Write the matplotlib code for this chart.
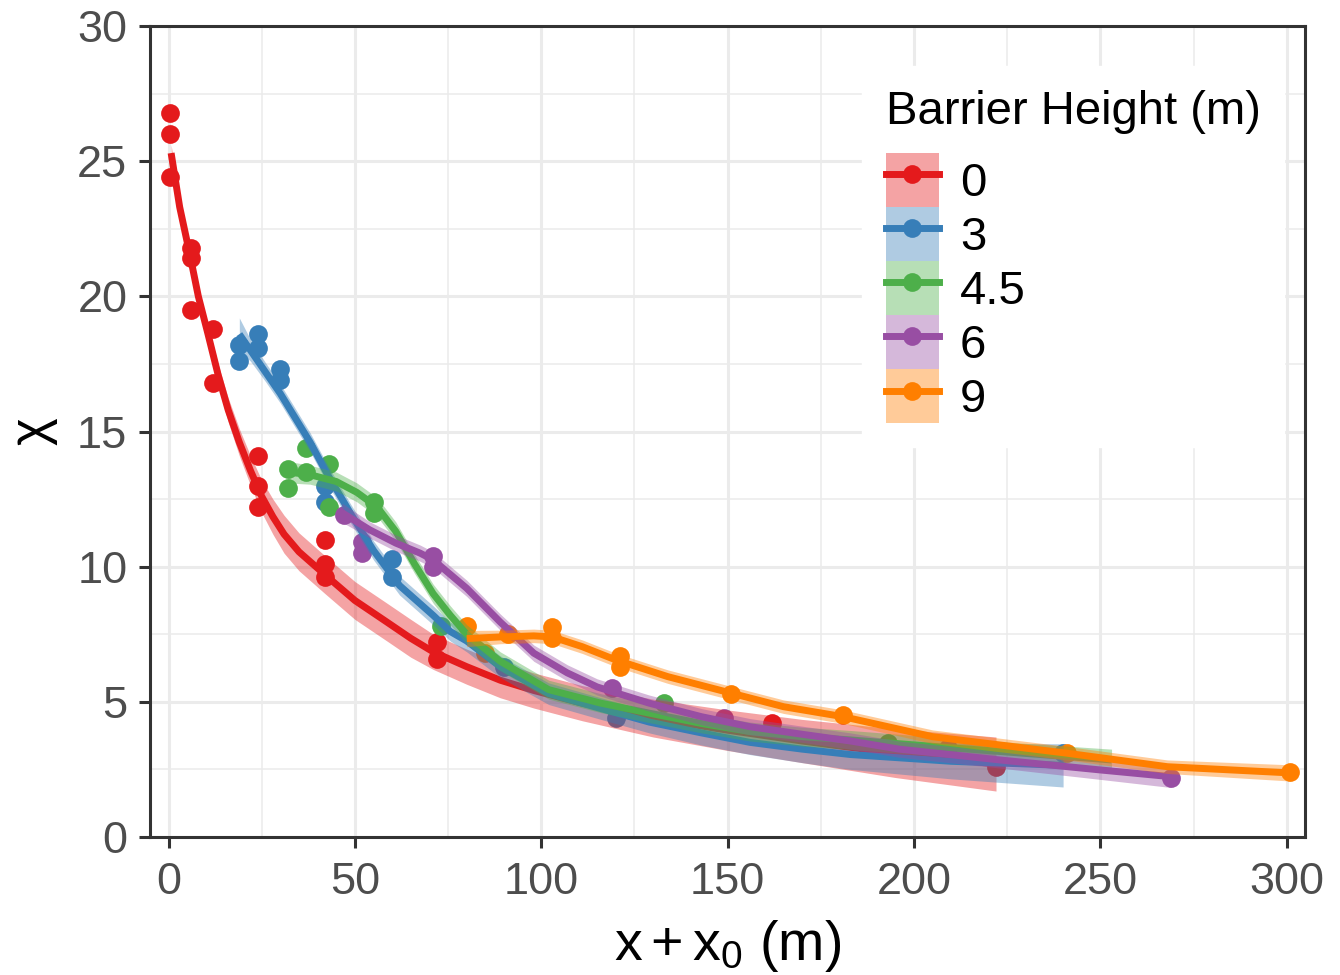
import matplotlib
matplotlib.use("Agg")
import matplotlib.pyplot as plt
from matplotlib.patches import Patch
from matplotlib.lines import Line2D
import numpy as np

plt.rcParams['font.family'] = ['Liberation Sans', 'DejaVu Sans']
plt.rcParams['mathtext.fontset'] = 'custom'
plt.rcParams['mathtext.rm'] = 'Liberation Sans'
plt.rcParams['mathtext.it'] = 'Liberation Sans:italic'

# ---------------- data ----------------
heights = ["0", "3", "4.5", "6", "9"]
colors = ["#E41A1C", "#377EB8", "#4DAF4A", "#984EA3", "#FF7F00"]

red_x = [0.5, 0.5, 0.5, 6, 6, 6, 12, 12, 24, 24, 24, 42, 42, 42, 72, 72, 162, 222]
red_y = [26.8, 26.0, 24.4, 21.8, 21.4, 19.5, 18.8, 16.8, 14.1, 13.0, 12.2, 11.0, 10.1, 9.6, 7.2, 6.6, 4.2, 2.6]
blue_x = [19, 19, 24, 24, 30, 30, 42, 42, 60, 60, 90, 120, 240]
blue_y = [18.2, 17.6, 18.6, 18.1, 17.3, 16.9, 13.0, 12.4, 10.3, 9.6, 6.3, 4.4, 3.1]
green_x = [32, 32, 37, 37, 43, 43, 55, 55, 73, 133, 193]
green_y = [13.6, 12.9, 14.4, 13.5, 13.8, 12.2, 12.4, 12.0, 7.8, 4.95, 3.47]
purple_x = [47, 52, 52, 71, 71, 119, 149, 209, 269]
purple_y = [11.9, 10.9, 10.5, 10.4, 10.0, 5.5, 4.4, 3.28, 2.2]
orange_x = [80, 85, 91, 103, 103, 121, 121, 151, 181, 241, 301]
orange_y = [7.8, 6.8, 7.5, 7.75, 7.35, 6.7, 6.3, 5.3, 4.5, 3.1, 2.4]

# smoothed fits and ribbon half-widths
red_fit_x = [0.7, 3, 5.8, 8, 10.6, 13.3, 16, 19, 22, 25, 28, 31, 35, 42, 50, 58.6, 65, 71, 80, 89, 98, 111, 130, 150, 170, 195, 222]
red_fit_y = [25.3, 23.3, 21.5, 20.0, 18.6, 17.1, 15.8, 14.6, 13.55, 12.6, 11.85, 11.2, 10.55, 9.7, 8.75, 7.95, 7.35, 6.85, 6.3, 5.8, 5.42, 4.95, 4.4, 3.95, 3.55, 3.1, 2.7]
red_se = [0.3, 0.3, 0.3, 0.3, 0.35, 0.4, 0.45, 0.5, 0.55, 0.6, 0.65, 0.7, 0.7, 0.7, 0.7, 0.7, 0.7, 0.65, 0.65, 0.65, 0.65, 0.65, 0.7, 0.75, 0.8, 0.9, 1.0]

blue_fit_x = [19, 22, 26, 30, 34, 38, 42.5, 48.7, 55, 62, 71, 75.6, 80, 89, 102, 116, 129, 143, 156, 170, 183, 210, 240]
blue_fit_y = [18.6, 18.0, 17.2, 16.4, 15.5, 14.6, 13.45, 12.0, 10.6, 9.3, 8.2, 7.6, 7.25, 6.3, 5.3, 4.75, 4.25, 3.85, 3.5, 3.25, 3.05, 2.8, 2.65]
blue_se = [0.6, 0.4, 0.35, 0.35, 0.35, 0.35, 0.35, 0.35, 0.35, 0.35, 0.35, 0.35, 0.4, 0.4, 0.4, 0.4, 0.4, 0.45, 0.45, 0.5, 0.55, 0.65, 0.8]

green_fit_x = [32, 38, 45, 50.5, 56, 61, 66, 71, 75.6, 80, 89, 102, 116, 129, 143, 156, 170, 183, 210, 253]
green_fit_y = [13.5, 13.4, 13.15, 12.75, 12.2, 11.3, 10.1, 9.0, 8.2, 7.5, 6.5, 5.45, 4.95, 4.58, 4.2, 3.9, 3.71, 3.59, 3.3, 2.85]
green_se = [0.4, 0.35, 0.35, 0.35, 0.35, 0.35, 0.35, 0.35, 0.35, 0.35, 0.35, 0.35, 0.35, 0.35, 0.35, 0.35, 0.35, 0.35, 0.35, 0.4]

purple_fit_x = [46.5, 54, 61, 67.5, 71, 80, 89, 98, 107, 115, 129, 143, 156, 170, 183, 196, 223, 250, 269]
purple_fit_y = [12.0, 11.36, 10.87, 10.5, 10.25, 9.2, 7.95, 6.8, 6.07, 5.55, 4.95, 4.45, 4.08, 3.8, 3.55, 3.25, 2.85, 2.48, 2.23]
purple_se = [0.35, 0.3, 0.3, 0.3, 0.3, 0.3, 0.3, 0.3, 0.3, 0.3, 0.3, 0.3, 0.3, 0.3, 0.3, 0.3, 0.3, 0.35, 0.4]

orange_fit_x = [80, 89, 98, 103, 111, 120, 134, 151, 165, 181, 205, 241, 268, 301]
orange_fit_y = [7.34, 7.4, 7.44, 7.4, 7.04, 6.55, 5.93, 5.32, 4.82, 4.45, 3.71, 3.1, 2.6, 2.37]
orange_se = [0.3, 0.25, 0.25, 0.25, 0.25, 0.25, 0.25, 0.25, 0.25, 0.25, 0.25, 0.25, 0.25, 0.3]

x_ticks = [0, 50, 100, 150, 200, 250, 300]
y_ticks = [0, 5, 10, 15, 20, 25, 30]

points = [(red_x, red_y), (blue_x, blue_y), (green_x, green_y), (purple_x, purple_y), (orange_x, orange_y)]
fits = [(red_fit_x, red_fit_y, red_se), (blue_fit_x, blue_fit_y, blue_se),
        (green_fit_x, green_fit_y, green_se), (purple_fit_x, purple_fit_y, purple_se),
        (orange_fit_x, orange_fit_y, orange_se)]

LW = 5.0
MS = 13.5

# ---------------- figure ----------------
W, H = 1340, 975
fig = plt.figure(figsize=(W / 100, H / 100), dpi=100)
ax = fig.add_axes([149.5 / W, 1 - 837 / H, (1305 - 149.5) / W, (837 - 26) / H])

ax.set_xlim(-5.1, 304.9)
ax.set_ylim(0, 30)

grid_c = "#EBEBEB"
ax.set_xticks(x_ticks)
ax.set_yticks(y_ticks)
ax.set_xticks([25, 75, 125, 175, 225, 275], minor=True)
ax.set_yticks([2.5, 7.5, 12.5, 17.5, 22.5, 27.5], minor=True)
ax.grid(True, which='major', color=grid_c, lw=2.2, zorder=0)
ax.grid(True, which='minor', color=grid_c, lw=1.1, zorder=0)
ax.set_axisbelow(True)

for i, (px, py) in enumerate(points):
    ax.plot(px, py, 'o', color=colors[i], ms=MS, mec='none', zorder=2)

for i, (fx, fy, se) in enumerate(fits):
    fx = np.asarray(fx); fy = np.asarray(fy); se = np.asarray(se)
    ax.fill_between(fx, fy - se, fy + se, color=colors[i], alpha=0.4, lw=0, zorder=3 + 2 * i)
    ax.plot(fx, fy, color=colors[i], lw=LW, solid_capstyle='butt', solid_joinstyle='round',
            zorder=4 + 2 * i)

for s in ax.spines.values():
    s.set_color("#333333")
    s.set_linewidth(2.2)

ax.tick_params(which='major', direction='out', length=8, width=2.2, color="#333333",
               labelsize=32.5, labelcolor="#4D4D4D", pad=8)
ax.tick_params(axis='x', which='major', pad=10)
ax.tick_params(which='minor', length=0)

ax.set_xlabel(r'$\mathrm{x + x_0\ (m)}$', fontsize=40, color='black', labelpad=11)
ax.set_ylabel('χ', fontsize=38, color='black', labelpad=14)

handles = []
for i, h in enumerate(heights):
    handles.append((Patch(facecolor=colors[i], alpha=0.4, lw=0),
                    Line2D([], [], color=colors[i], lw=LW, marker='o', ms=MS, mec='none')))

leg = ax.legend(handles, heights, title='Barrier Height (m)', loc='upper left',
                bbox_to_anchor=(862 / W, 1 - 66 / H), bbox_transform=fig.transFigure,
                fontsize=34, title_fontsize=34, frameon=True, fancybox=False,
                handlelength=1.12, handleheight=1.383, labelspacing=0.0, handletextpad=0.45,
                borderpad=0.5, borderaxespad=0, alignment='left')
leg._legend_box.sep = 14
leg.get_frame().set_facecolor('white')
leg.get_frame().set_edgecolor('white')
leg.get_frame().set_alpha(1)
leg.set_zorder(20)

fig.savefig("out.png", dpi=100)
